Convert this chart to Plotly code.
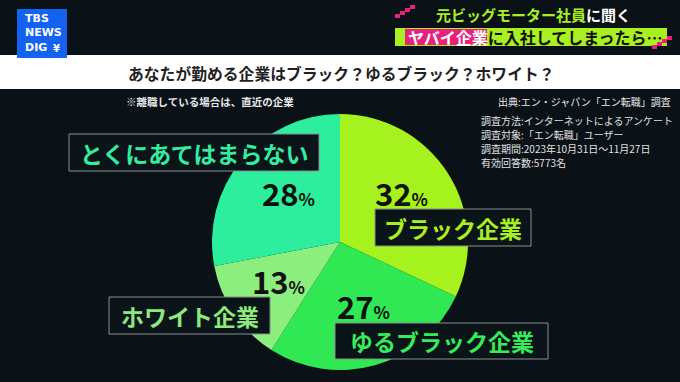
import plotly.graph_objects as go

W, H = 680, 382

# ---- data ----
categories = ["ブラック企業", "ゆるブラック企業", "ホワイト企業", "とくにあてはまらない"]
values = [32, 27, 13, 28]
slice_colors = ["#a6f21e", "#30e854", "#8cee7c", "#2cee9c"]
label_colors = ["#a8f022", "#38ea5a", "#8ee87e", "#36eaa0"]

title_text = "あなたが勤める企業はブラック？ゆるブラック？ホワイト？"
note_text = "※離職している場合は、直近の企業"
source_text = "出典:エン・ジャパン「エン転職」調査"
method_lines = [
    "調査方法:インターネットによるアンケート",
    "調査対象:「エン転職」ユーザー",
    "調査期間:2023年10月31日～11月27日",
    "有効回答数:5773名",
]
header1_a = "元ビッグモーター社員"
header1_b = "に聞く"
header2_a = "ヤバイ企業"
header2_b = "に入社してしまったら…"

FONT = "Noto Sans CJK JP"
BG = "#0a1117"


def px(x):
    return x / W


def py(y):
    return 1 - y / H


# pie geometry (pixels)
cx, cy, r = 340, 242, 128

fig = go.Figure()
fig.add_trace(go.Pie(
    labels=categories,
    values=values,
    marker=dict(colors=slice_colors, line=dict(width=0)),
    sort=False,
    direction="clockwise",
    rotation=0,
    textinfo="none",
    hoverinfo="label+percent",
    showlegend=False,
    domain=dict(x=[px(cx - r), px(cx + r)], y=[py(cy + r), py(cy - r)]),
))

shapes = []
annotations = []

# white title band
shapes.append(dict(type="rect", xref="paper", yref="paper",
                   x0=0, x1=1, y0=py(89), y1=py(55),
                   fillcolor="white", line=dict(width=0), layer="below"))
# logo
shapes.append(dict(type="rect", xref="paper", yref="paper",
                   x0=px(17), x1=px(67), y0=py(58), y1=py(9),
                   fillcolor="#1462f0", line=dict(width=0)))
annotations.append(dict(xref="paper", yref="paper", x=px(23), y=py(33),
                        xanchor="left", yanchor="middle", align="left",
                        text="<b>TBS<br>NEWS<br>DIG</b>", showarrow=False,
                        font=dict(family="DejaVu Sans", size=11, color="white")))
annotations.append(dict(xref="paper", yref="paper", x=px(51), y=py(48),
                        xanchor="left", yanchor="middle",
                        text="<b>¥</b>", showarrow=False,
                        font=dict(family="DejaVu Sans", size=10, color="white")))

# header line 2 bar
shapes.append(dict(type="rect", xref="paper", yref="paper",
                   x0=px(395), x1=px(667), y0=py(46), y1=py(28),
                   fillcolor="#a8f022", line=dict(width=0)))
shapes.append(dict(type="rect", xref="paper", yref="paper",
                   x0=px(405), x1=px(487), y0=py(45), y1=py(29),
                   fillcolor="#e8207e", line=dict(width=0)))
# pink decorations
for (x0, y0) in [(395, 14), (400, 11), (405, 8), (410, 5),
                 (652, 45), (657, 42), (662, 39), (667, 36)]:
    shapes.append(dict(type="rect", xref="paper", yref="paper",
                       x0=px(x0), x1=px(x0 + 5), y0=py(y0 + 4), y1=py(y0),
                       fillcolor="#e8207e", line=dict(width=0)))

annotations.append(dict(xref="paper", yref="paper", x=px(434), y=py(15),
                        xanchor="left", yanchor="middle",
                        text=f"<b><span style='color:#a8f022'>{header1_a}</span>{header1_b}</b>",
                        showarrow=False,
                        font=dict(family=FONT, size=15, color="white")))
annotations.append(dict(xref="paper", yref="paper", x=px(406), y=py(37),
                        xanchor="left", yanchor="middle",
                        text=f"<b><span style='color:white'>{header2_a}</span>{header2_b}</b>",
                        showarrow=False,
                        font=dict(family=FONT, size=16, color="#111111")))

# title
annotations.append(dict(xref="paper", yref="paper", x=px(341), y=py(73),
                        xanchor="center", yanchor="middle",
                        text=f"<b>{title_text}</b>", showarrow=False,
                        font=dict(family=FONT, size=15.8, color="#222222")))
# note / source
annotations.append(dict(xref="paper", yref="paper", x=px(124), y=py(101),
                        xanchor="left", yanchor="middle",
                        text=f"<b>{note_text}</b>", showarrow=False,
                        font=dict(family=FONT, size=10.5, color="#e8e8e8")))
annotations.append(dict(xref="paper", yref="paper", x=px(673), y=py(101),
                        xanchor="right", yanchor="middle",
                        text=source_text, showarrow=False,
                        font=dict(family=FONT, size=10, color="#e8e8e8")))
for k, line in enumerate(method_lines):
    annotations.append(dict(xref="paper", yref="paper", x=px(479), y=py(120 + 14.3 * k),
                            xanchor="left", yanchor="middle", align="left",
                            text=line, showarrow=False,
                            font=dict(family=FONT, size=10, color="#e0e0e0")))

# category label boxes
label_boxes = [
    (375, 209, 531, 246),   # ブラック企業
    (335, 323, 548, 359),   # ゆるブラック企業
    (109, 297, 270, 334),   # ホワイト企業
    (69, 134, 319, 171),    # とくにあてはまらない
]
pct_pos = [(373, 193), (335, 305), (250, 280), (260, 193)]

for i, cat in enumerate(categories):
    x0, y0, x1, y1 = label_boxes[i]
    shapes.append(dict(type="rect", xref="paper", yref="paper",
                       x0=px(x0), x1=px(x1), y0=py(y1), y1=py(y0),
                       fillcolor="#0b1418", line=dict(color="#8a8f90", width=1)))
    annotations.append(dict(xref="paper", yref="paper", x=px((x0 + x1) / 2), y=py((y0 + y1) / 2),
                            xanchor="center", yanchor="middle",
                            text=f"<b>{cat}</b>", showarrow=False,
                            font=dict(family=FONT, size=23, color=label_colors[i])))
    ax, ay = pct_pos[i]
    annotations.append(dict(xref="paper", yref="paper", x=px(ax), y=py(ay),
                            xanchor="left", yanchor="middle",
                            text=f"<b>{values[i]}<span style='font-size:17px'>%</span></b>",
                            showarrow=False,
                            font=dict(family=FONT, size=31, color="#111111")))

fig.update_layout(
    width=W, height=H,
    margin=dict(l=0, r=0, t=0, b=0),
    paper_bgcolor=BG, plot_bgcolor=BG,
    shapes=shapes, annotations=annotations,
    showlegend=False,
)

fig.write_html("out.html",
               config=dict(displayModeBar=False),
               post_script="document.body.style.margin='0';document.body.style.overflow='hidden';")
